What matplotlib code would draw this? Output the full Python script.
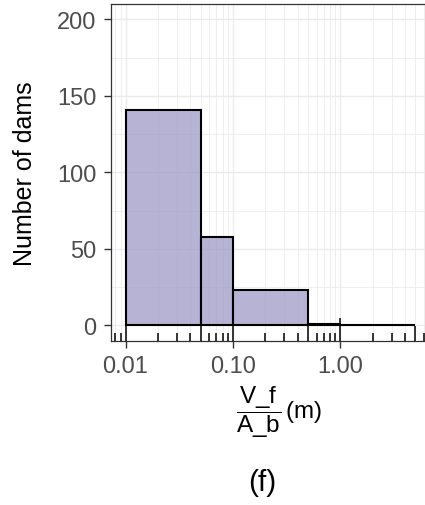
import numpy as np
import matplotlib
matplotlib.use('Agg')
import matplotlib.pyplot as plt
import matplotlib.ticker as mticker
import matplotlib.transforms as mtransforms
from matplotlib.colors import to_rgba

plt.rcParams['font.family'] = ['Liberation Sans', 'DejaVu Sans']
plt.rcParams['mathtext.fontset'] = 'custom'
plt.rcParams['mathtext.rm'] = 'Liberation Sans'
plt.rcParams['mathtext.it'] = 'Liberation Sans:italic'

# histogram bins (V_f / A_b, m) and number of dams per bin
bin_edges = [0.01, 0.05, 0.1, 0.5, 1.0, 5.0]
counts = [141, 58, 23, 1, 0]

xticks = [0.01, 0.1, 1.0]
xtick_labels = ['0.01', '0.10', '1.00']
yticks = [0, 50, 100, 150, 200]

W, H = 425, 506
fig = plt.figure(figsize=(W / 100, H / 100), dpi=100)
# panel runs a little past the right edge of the picture
left, right, top, bottom = 111, 430, 5, 341.7
ax = fig.add_axes([left / W, 1 - bottom / H, (right - left) / W, (bottom - top) / H])

edges = np.array(bin_edges)
ax.bar(edges[:-1], counts, width=np.diff(edges), align='edge',
       facecolor=to_rgba('#9E9AC8', 0.75), edgecolor='black', linewidth=1.5, zorder=2)

ax.set_xscale('log')
ax.set_xlim(10 ** -2.135, 10 ** 0.834)
ax.set_ylim(-10, 210)

ax.set_xticks(xticks)
ax.set_xticklabels(xtick_labels)
ax.xaxis.set_minor_locator(mticker.LogLocator(base=10, subs=np.arange(2, 10), numticks=20))
ax.xaxis.set_minor_formatter(mticker.NullFormatter())
ax.set_yticks(yticks)
ax.yaxis.set_minor_locator(mticker.MultipleLocator(25))

ax.grid(True, which='major', color='#EBEBEB', linewidth=1.0)
ax.grid(True, which='minor', color='#EBEBEB', linewidth=0.6)
ax.set_axisbelow(True)

ax.tick_params(which='major', length=5.3, width=1.0, color='#333333',
               labelcolor='#4D4D4D', labelsize=17)
ax.tick_params(axis='x', which='major', pad=5)
ax.tick_params(axis='y', which='major', pad=5)
ax.tick_params(which='minor', length=0)
for sp in ax.spines.values():
    sp.set_color('#333333')
    sp.set_linewidth(0.9)

# log ticks along the bottom of the panel
trans = mtransforms.blended_transform_factory(ax.transData, ax.transAxes)
lo, hi = ax.get_xlim()
for k in range(-3, 1):
    for m in range(1, 10):
        v = m * 10.0 ** k
        if v < lo or v > hi:
            continue
        h = 0.068 if m == 1 else (0.045 if m == 5 else 0.024)
        ax.plot([v, v], [0, h], color='black', linewidth=1.1, transform=trans,
                zorder=3, clip_on=False, solid_capstyle='butt')

ax.set_ylabel('Number of dams', fontsize=18, color='black', va='center')
ax.yaxis.set_label_coords((25 - left) / (right - left), 0.5)

ax.set_xlabel(r'$\dfrac{\mathrm{V\_f}}{\mathrm{A\_b}}\,\mathrm{(m)}$', fontsize=17.5,
              color='black', va='center')
ax.xaxis.set_label_coords((279 - left) / (right - left), (bottom - 412) / (bottom - top))

fig.text(262 / W, 1 - 483 / H, '(f)', ha='center', va='center', fontsize=21.5)

fig.savefig('out.png', dpi=100)
